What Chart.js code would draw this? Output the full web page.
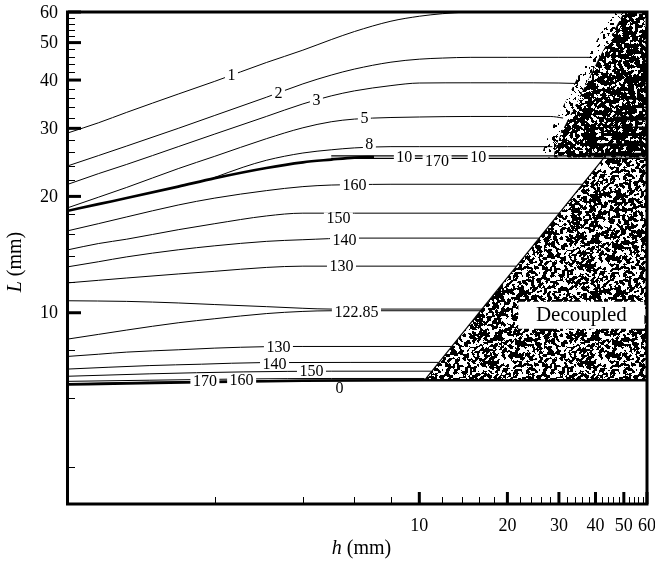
<!DOCTYPE html>
<html lang="en">
<head>
<meta charset="UTF-8">
<title>Contour map h vs L</title>
<script src="https://cdn.jsdelivr.net/npm/chart.js"></script>
<style>
    html, body { margin: 0; padding: 0; background: #fff; }
    #wrap { width: 655px; height: 565px; }
</style>
</head>
<body>
<div id="wrap"><canvas id="chart" width="655" height="565"></canvas></div>
<script>
// contour lines: h (mm) and L (mm)
const c1H = [0.63, 0.8, 1, 1.5, 2, 3, 4, 5, 6, 8, 10, 12, 14.5];
const c1L = [29.2, 31.0, 33.0, 36.8, 39.7, 44.4, 47.8, 50.9, 53.4, 56.8, 58.5, 59.4, 60];
const c2H = [0.63, 0.8, 1, 1.5, 2, 3, 4, 5, 6, 8, 10, 12, 15, 20, 30, 38.5];
const c2L = [24.0, 25.5, 27.0, 30.0, 32.4, 36.1, 39.1, 41.2, 42.7, 44.5, 45.3, 45.6, 45.8, 45.8, 45.8, 45.8];
const c3H = [0.63, 0.8, 1, 1.5, 2, 3, 4, 5, 6, 8, 10, 15, 20, 30, 34];
const c3L = [21.5, 22.9, 24.2, 26.9, 29.0, 32.2, 34.7, 36.4, 37.5, 38.7, 39.3, 39.35, 39.35, 39.3, 39.2];
const c5H = [0.63, 0.8, 1, 1.5, 2, 3, 4, 5, 6, 8, 10, 15, 20, 28, 31];
const c5L = [18.7, 19.9, 21.1, 23.6, 25.4, 28.2, 30.1, 31.2, 31.7, 32.0, 32.1, 32.2, 32.2, 32.2, 31.9];
const c8H = [2, 2.5, 3, 4, 5, 6, 8, 10, 20, 28.5];
const c8L = [22.4, 23.8, 24.8, 25.9, 26.4, 26.7, 26.9, 26.9, 26.9, 26.9];
const c10H = [0.63, 0.8, 1, 1.5, 2, 3, 4, 5, 6, 7];
const c10L = [18.35, 19.1, 19.8, 21.2, 22.3, 23.7, 24.5, 24.9, 25.2, 25.3];
const c10aH = [5, 60];
const c10aL = [25.45, 25.45];
const c10bH = [5, 60];
const c10bL = [25.1, 25.1];
const c160uH = [0.63, 0.8, 1, 1.5, 2, 3, 4, 5, 6, 8, 36.2];
const c160uL = [16.3, 17.0, 17.7, 19.0, 19.8, 20.7, 21.2, 21.4, 21.45, 21.5, 21.5];
const c150uH = [0.63, 0.8, 1, 1.5, 2, 3, 4, 6, 30.1];
const c150uL = [14.55, 15.1, 15.5, 16.4, 17.0, 17.8, 18.1, 18.1, 18.1];
const c140uH = [0.63, 0.8, 1, 1.5, 2, 3, 4, 6, 25.6];
const c140uL = [13.15, 13.55, 13.95, 14.55, 14.9, 15.3, 15.45, 15.6, 15.6];
const c130uH = [0.63, 0.8, 1, 1.5, 2, 3, 4, 21.4];
const c130uL = [11.95, 12.13, 12.3, 12.6, 12.8, 13.1, 13.2, 13.2];
const c122aH = [0.63, 1, 1.5, 2, 3, 4, 5, 6, 16.4];
const c122aL = [10.74, 10.7, 10.6, 10.5, 10.37, 10.27, 10.22, 10.22, 10.22];
const c122bH = [0.63, 0.8, 1, 1.5, 2, 3, 4, 5, 16.4];
const c122bL = [8.55, 8.79, 9.02, 9.42, 9.65, 9.95, 10.08, 10.12, 10.12];
const c130lH = [0.63, 0.8, 1, 1.5, 2, 3, 4, 12.85];
const c130lL = [7.71, 7.81, 7.91, 8.02, 8.10, 8.17, 8.18, 8.18];
const c140lH = [0.63, 1.2, 1.8, 2.9, 11.6];
const c140lL = [7.15, 7.3, 7.36, 7.43, 7.44];
const c150lH = [0.63, 1.2, 2.5, 5, 11.0];
const c150lL = [6.85, 6.95, 7.03, 7.06, 7.06];
const c160lH = [0.63, 1.2, 2.5, 5, 10.43];
const c160lL = [6.645, 6.69, 6.74, 6.76, 6.76];
const c170lH = [0.63, 1.2, 2.5, 5, 10.43];
const c170lL = [6.56, 6.62, 6.67, 6.70, 6.71];
const c0H = [0.63, 1, 2, 4, 10.43, 60];
const c0L = [6.52, 6.56, 6.62, 6.67, 6.69, 6.69];

// decoupled wedge and the noisy band at top right
const triH = [10.43, 42.8, 60, 60];
const triL = [6.69, 25.2, 25.2, 6.69];
const upH = [50.1, 40.8, 34.9, 30.5, 28.9, 28.9, 60, 60];
const upL = [60, 45.1, 35.5, 29.2, 25.9, 25.2, 25.2, 60];
const fringeH = [45.6, 37.2, 31.8, 27.8, 26.3, 26.3, 28.9, 28.9, 30.5, 34.9, 40.8, 50.1];
const fringeL = [60, 45.1, 35.5, 29.2, 25.9, 25.2, 25.2, 25.9, 29.2, 35.5, 45.1, 60];
const stripeL = [35.8, 34.0, 31.8, 30.2, 28.9, 27.2, 25.7];
const stripeH = [52.1, 48.9, 45.9, 43.5, 41.8, 39.3, 37.8];

// contour labels
const labelText = ['1', '2', '3', '5', '8', '10', '170', '10', '160', '150', '140', '130', '122.85',
    '130', '140', '150', '160', '170', '0'];
const labelH = [2.28, 3.30, 4.45, 6.49, 6.75, 8.89, 11.5, 15.9, 6.0, 5.29, 5.55, 5.42, 6.1,
    3.30, 3.2, 4.28, 2.47, 1.85, 5.34];
const labelL = [41.2, 37.0, 35.5, 31.9, 27.3, 25.3, 24.75, 25.3, 21.4, 17.6, 15.4, 13.2, 10.08,
    8.18, 7.37, 7.08, 6.71, 6.68, 6.4];
const boxText = 'Decoupled';
const boxH = 35.8, boxL = 9.88;

// axes
const xMin = 0.63, xMax = 60, yMin = 3.2, yMax = 60;
const xMajor = [10, 20, 30, 40, 50, 60];
const xMinor = [2, 4, 6, 8, 12, 14, 16, 18, 22, 24, 26, 28, 32, 34, 36, 38, 42, 44, 46, 48, 52, 54, 56, 58];
const yMajor = [10, 20, 30, 40, 50, 60];
const yMinor = [4, 6, 8, 12, 14, 16, 18, 22, 24, 26, 28, 32, 34, 36, 38, 42, 44, 46, 48, 52, 54, 56, 58];

const serif = '"Liberation Serif", "Times New Roman", serif';

function line(h, L, w) {
    return {
        data: h.map((v, i) => ({ x: v, y: L[i] })),
        showLine: true,
        borderColor: '#000',
        borderWidth: w,
        pointRadius: 0,
        cubicInterpolationMode: 'monotone'
    };
}

const datasets = [
    line(c1H, c1L, 1), line(c2H, c2L, 1), line(c3H, c3L, 1), line(c5H, c5L, 1), line(c8H, c8L, 1),
    line(c10H, c10L, 2.6), line(c10aH, c10aL, 1.2), line(c10bH, c10bL, 1.2),
    line(c160uH, c160uL, 1), line(c150uH, c150uL, 1), line(c140uH, c140uL, 1), line(c130uH, c130uL, 1),
    line(c122aH, c122aL, 1), line(c122bH, c122bL, 1),
    line(c130lH, c130lL, 1), line(c140lH, c140lL, 1), line(c150lH, c150lL, 1),
    line(c160lH, c160lL, 1), line(c170lH, c170lL, 1), line(c0H, c0L, 2.4),
    line([triH[0], triH[1]], [triL[0], triL[1]], 1.2)
];
// horizontal bands inside the noisy corner
const stripeW = [2, 1.5, 4, 1.5, 3, 3, 3];
stripeL.forEach((v, i) => datasets.push(line([stripeH[i], 60], [v, v], stripeW[i])));

// fine blotchy texture for the noisy regions (hash noise, smoothed, thresholded)
function speckle(density, seed) {
    const n = 97;
    const raw = [];
    for (let i = 0; i < n; i++) {
        raw.push([]);
        for (let j = 0; j < n; j++) {
            const s = Math.sin(i * 12.9898 + j * 78.233 + seed) * 43758.5453;
            raw[i].push(s - Math.floor(s));
        }
    }
    const blur = [], all = [];
    for (let i = 0; i < n; i++) {
        blur.push([]);
        for (let j = 0; j < n; j++) {
            let sum = 0;
            for (let di = -1; di <= 1; di++) {
                for (let dj = -1; dj <= 1; dj++) {
                    sum += raw[(i + di + n) % n][(j + dj + n) % n] * (di === 0 && dj === 0 ? 2 : 1);
                }
            }
            blur[i].push(sum);
            all.push(sum);
        }
    }
    all.sort((p, q) => p - q);
    const thr = all[Math.floor(density * all.length)];
    const c = document.createElement('canvas');
    c.width = c.height = n;
    const g = c.getContext('2d');
    g.fillStyle = '#fff';
    g.fillRect(0, 0, n, n);
    g.fillStyle = '#000';
    for (let i = 0; i < n; i++) {
        for (let j = 0; j < n; j++) {
            if (blur[i][j] < thr) g.fillRect(i, j, 1, 1);
        }
    }
    return g.createPattern(c, 'repeat');
}

function fillPoly(ctx, xs, ys, h, L, style) {
    ctx.beginPath();
    h.forEach((v, i) => {
        const px = xs.getPixelForValue(v), py = ys.getPixelForValue(L[i]);
        if (i === 0) ctx.moveTo(px, py); else ctx.lineTo(px, py);
    });
    ctx.closePath();
    ctx.fillStyle = style;
    ctx.fill();
}

const patTri = speckle(0.56, 1.7);
const patUp = speckle(0.74, 3.1);
const patFringe = speckle(0.2, 5.3);

const deco = {
    id: 'deco',
    beforeDatasetsDraw(chart) {
        const { ctx, chartArea: a, scales: { x, y } } = chart;
        ctx.save();
        ctx.beginPath();
        ctx.rect(a.left, a.top, a.right - a.left, a.bottom - a.top);
        ctx.clip();
        fillPoly(ctx, x, y, triH, triL, patTri);
        fillPoly(ctx, x, y, fringeH, fringeL, patFringe);
        fillPoly(ctx, x, y, upH, upL, patUp);
        ctx.restore();
    },
    afterDatasetsDraw(chart) {
        const { ctx, chartArea: a, scales: { x, y } } = chart;
        ctx.save();
        ctx.textAlign = 'center';
        ctx.textBaseline = 'middle';

        // contour labels cut into the lines
        ctx.font = '16px ' + serif;
        labelText.forEach((t, i) => {
            const px = x.getPixelForValue(labelH[i]), py = y.getPixelForValue(labelL[i]);
            const w = ctx.measureText(t).width + 5;
            ctx.fillStyle = '#fff';
            ctx.fillRect(px - w / 2, py - 5.5, w, 11);
            ctx.fillStyle = '#000';
            ctx.fillText(t, px, py + 1);
        });

        // Decoupled box
        const bx = x.getPixelForValue(boxH), by = y.getPixelForValue(boxL);
        ctx.fillStyle = '#fff';
        ctx.fillRect(bx - 63, by - 13, 126, 27);
        ctx.fillStyle = '#000';
        ctx.font = '21px ' + serif;
        ctx.fillText(boxText, bx, by + 1);

        // frame
        ctx.strokeStyle = '#000';
        ctx.lineWidth = 3;
        ctx.strokeRect(a.left - 0.5, a.top, a.right - a.left + 0.5, a.bottom - a.top);

        // ticks
        ctx.lineWidth = 1;
        xMinor.forEach(v => {
            const px = Math.round(x.getPixelForValue(v)) + 0.5;
            ctx.beginPath(); ctx.moveTo(px, a.bottom); ctx.lineTo(px, a.bottom - 7); ctx.stroke();
        });
        yMinor.forEach(v => {
            const py = Math.round(y.getPixelForValue(v)) + 0.5;
            ctx.beginPath(); ctx.moveTo(a.left, py); ctx.lineTo(a.left + 7, py); ctx.stroke();
        });
        ctx.lineWidth = 3;
        xMajor.forEach(v => {
            const px = x.getPixelForValue(v);
            ctx.beginPath(); ctx.moveTo(px, a.bottom); ctx.lineTo(px, a.bottom - 12); ctx.stroke();
        });
        yMajor.forEach(v => {
            const py = y.getPixelForValue(v);
            ctx.beginPath(); ctx.moveTo(a.left, py); ctx.lineTo(a.left + 13, py); ctx.stroke();
        });

        // tick labels
        ctx.font = '18px ' + serif;
        ctx.textAlign = 'center';
        xMajor.forEach(v => ctx.fillText(String(v), x.getPixelForValue(v), a.bottom + 22));
        ctx.textAlign = 'right';
        yMajor.forEach(v => ctx.fillText(String(v), a.left - 10, y.getPixelForValue(v) + 1));

        // axis titles
        const italic = 'italic 20px ' + serif, plain = '20px ' + serif;
        function title(sym, rest, cx, cy, rot) {
            ctx.save();
            ctx.translate(cx, cy);
            ctx.rotate(rot);
            ctx.font = italic;
            const w1 = ctx.measureText(sym).width;
            ctx.font = plain;
            const w2 = ctx.measureText(rest).width;
            ctx.textAlign = 'left';
            ctx.font = italic;
            ctx.fillText(sym, -(w1 + w2) / 2, 0);
            ctx.font = plain;
            ctx.fillText(rest, -(w1 + w2) / 2 + w1, 0);
            ctx.restore();
        }
        title('h', ' (mm)', (a.left + a.right) / 2 + 4, a.bottom + 45, 0);
        title('L', ' (mm)', 16, 262, -Math.PI / 2);
        ctx.restore();
    }
};

new Chart(document.getElementById('chart'), {
    type: 'scatter',
    data: { datasets },
    options: {
        responsive: false,
        animation: false,
        devicePixelRatio: 1,
        layout: { padding: { left: 68, right: 8, top: 12, bottom: 61 } },
        plugins: { legend: { display: false }, tooltip: { enabled: false } },
        scales: {
            x: {
                type: 'logarithmic', min: xMin, max: xMax, bounds: 'data', display: false,
                afterBuildTicks: s => { s.min = xMin; s.max = xMax; }
            },
            y: {
                type: 'logarithmic', min: yMin, max: yMax, bounds: 'data', display: false,
                afterBuildTicks: s => { s.min = yMin; s.max = yMax; }
            }
        }
    },
    plugins: [deco]
});
</script>
</body>
</html>
